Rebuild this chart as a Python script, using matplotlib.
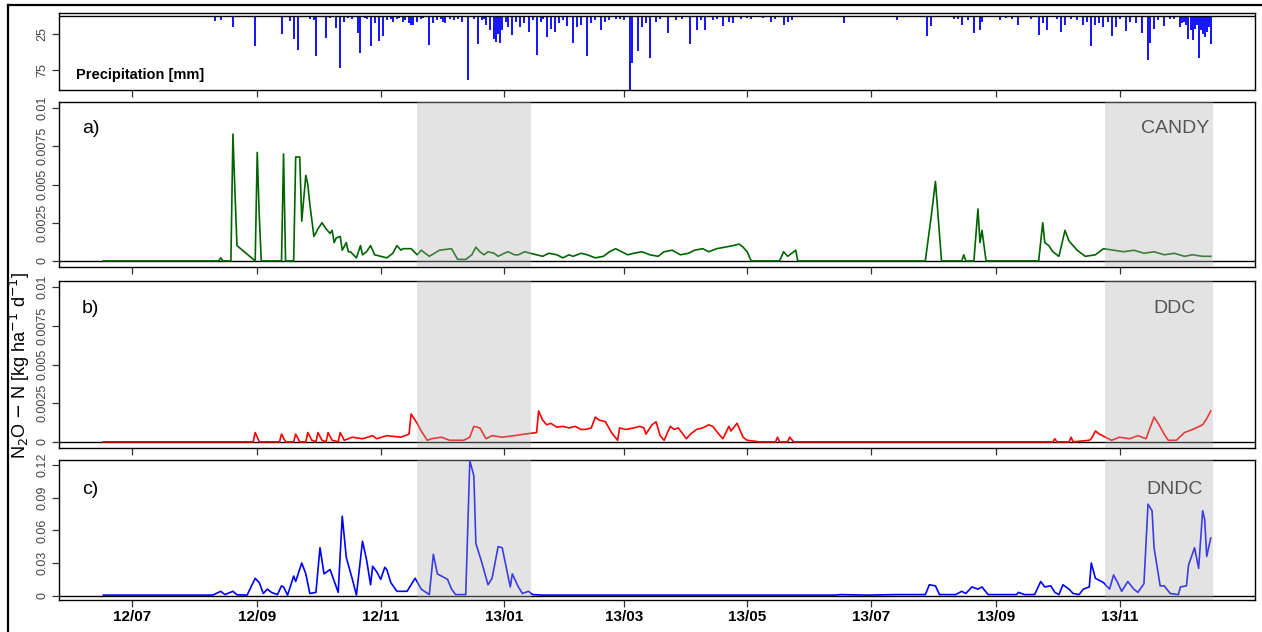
import matplotlib
matplotlib.use("Agg")
import matplotlib.pyplot as plt
import pandas as pd
from matplotlib.lines import Line2D

plt.rcParams['font.family'] = ['Liberation Sans', 'DejaVu Sans']

# rain days (mm)
rain_dates = ["2012-08-11", "2012-08-14", "2012-08-20", "2012-08-31", "2012-09-13", "2012-09-17",
              "2012-09-19", "2012-09-21", "2012-09-27", "2012-09-29", "2012-09-30", "2012-10-05",
              "2012-10-07", "2012-10-10", "2012-10-12", "2012-10-14", "2012-10-16", "2012-10-18",
              "2012-10-21", "2012-10-22", "2012-10-24", "2012-10-25", "2012-10-27", "2012-10-29",
              "2012-10-31", "2012-11-02", "2012-11-04", "2012-11-06", "2012-11-07", "2012-11-09",
              "2012-11-10", "2012-11-12", "2012-11-13", "2012-11-15", "2012-11-16", "2012-11-17",
              "2012-11-19", "2012-11-21", "2012-11-22", "2012-11-25", "2012-11-27", "2012-11-29",
              "2012-12-01", "2012-12-02", "2012-12-03", "2012-12-05", "2012-12-07", "2012-12-09",
              "2012-12-11", "2012-12-14", "2012-12-17", "2012-12-19", "2012-12-21", "2012-12-22",
              "2012-12-23", "2012-12-25", "2012-12-27", "2012-12-28", "2012-12-29", "2012-12-30",
              "2012-12-31", "2013-01-02", "2013-01-03", "2013-01-05", "2013-01-07", "2013-01-09",
              "2013-01-11", "2013-01-13", "2013-01-15", "2013-01-17", "2013-01-19", "2013-01-20",
              "2013-01-22", "2013-01-24", "2013-01-26", "2013-01-28", "2013-01-30", "2013-02-01",
              "2013-02-04", "2013-02-06", "2013-02-08", "2013-02-11", "2013-02-13", "2013-02-15",
              "2013-02-18", "2013-02-20", "2013-02-22", "2013-02-25", "2013-02-27", "2013-03-01",
              "2013-03-04", "2013-03-05", "2013-03-08", "2013-03-10", "2013-03-12", "2013-03-14",
              "2013-03-17", "2013-03-19", "2013-03-23", "2013-03-27", "2013-03-30", "2013-04-03",
              "2013-04-06", "2013-04-08", "2013-04-10", "2013-04-14", "2013-04-16", "2013-04-19",
              "2013-04-22", "2013-04-24", "2013-04-28", "2013-05-01", "2013-05-03", "2013-05-09",
              "2013-05-13", "2013-05-15", "2013-05-19", "2013-05-21", "2013-05-23", "2013-06-18",
              "2013-07-14", "2013-07-29", "2013-07-31", "2013-08-11", "2013-08-13", "2013-08-15",
              "2013-08-18", "2013-08-21", "2013-08-24", "2013-08-25", "2013-09-03", "2013-09-06",
              "2013-09-09", "2013-09-12", "2013-09-18", "2013-09-22", "2013-09-24", "2013-09-26",
              "2013-10-01", "2013-10-03", "2013-10-05", "2013-10-08", "2013-10-11", "2013-10-14",
              "2013-10-16", "2013-10-18", "2013-10-20", "2013-10-22", "2013-10-24", "2013-10-26",
              "2013-10-28", "2013-10-30", "2013-11-01", "2013-11-04", "2013-11-06", "2013-11-09",
              "2013-11-12", "2013-11-15", "2013-11-16", "2013-11-18", "2013-11-20", "2013-11-23",
              "2013-11-26", "2013-11-28", "2013-12-01", "2013-12-02", "2013-12-03", "2013-12-04",
              "2013-12-05", "2013-12-06", "2013-12-07", "2013-12-08", "2013-12-09", "2013-12-10",
              "2013-12-11", "2013-12-12", "2013-12-13", "2013-12-14", "2013-12-15", "2013-12-16"]
rain_mm = [7, 6, 15, 42, 25, 7,
           32, 47, 4, 6, 56, 31,
           3, 17, 72, 8, 3, 5,
           24, 51, 3, 4, 42, 10,
           35, 28, 6, 4, 8, 5,
           3, 8, 6, 10, 12, 12,
           8, 5, 3, 40, 10, 6,
           4, 8, 10, 4, 6, 5,
           8, 89, 5, 39, 6, 4,
           12, 20, 32, 36, 25, 38,
           20, 8, 15, 26, 8, 16,
           10, 22, 6, 54, 8, 5,
           30, 18, 22, 10, 6, 14,
           37, 16, 12, 56, 10, 6,
           20, 8, 6, 4, 4, 6,
           103, 65, 49, 16, 10, 58,
           8, 5, 24, 6, 4, 39,
           20, 6, 20, 6, 4, 14,
           8, 10, 5, 3, 4, 3,
           8, 5, 12, 8, 6, 10,
           6, 28, 14, 5, 4, 12,
           6, 24, 20, 8, 6, 3,
           4, 12, 5, 26, 10, 20,
           4, 22, 12, 4, 6, 12,
           8, 42, 12, 10, 15, 8,
           28, 15, 5, 21, 8, 10,
           24, 61, 38, 18, 6, 14,
           5, 4, 15, 10, 8, 12,
           32, 20, 33, 18, 12, 58,
           20, 25, 30, 22, 15, 39]

# CANDY N2O-N flux
candy_dates = ["2012-06-17", "2012-08-13", "2012-08-14", "2012-08-15", "2012-08-19", "2012-08-20",
               "2012-08-21", "2012-08-22", "2012-08-31", "2012-09-01", "2012-09-02", "2012-09-03",
               "2012-09-13", "2012-09-14", "2012-09-15", "2012-09-19", "2012-09-20", "2012-09-22",
               "2012-09-23", "2012-09-25", "2012-09-26", "2012-09-27", "2012-09-29", "2012-10-01",
               "2012-10-03", "2012-10-05", "2012-10-07", "2012-10-08", "2012-10-09", "2012-10-10",
               "2012-10-12", "2012-10-13", "2012-10-15", "2012-10-16", "2012-10-17", "2012-10-20",
               "2012-10-22", "2012-10-23", "2012-10-25", "2012-10-27", "2012-10-29", "2012-11-01",
               "2012-11-04", "2012-11-07", "2012-11-09", "2012-11-11", "2012-11-12", "2012-11-16",
               "2012-11-19", "2012-11-21", "2012-11-25", "2012-11-30", "2012-12-06", "2012-12-09",
               "2012-12-13", "2012-12-16", "2012-12-18", "2012-12-20", "2012-12-22", "2012-12-24",
               "2012-12-27", "2012-12-29", "2013-01-01", "2013-01-03", "2013-01-06", "2013-01-08",
               "2013-01-11", "2013-01-14", "2013-01-17", "2013-01-20", "2013-01-23", "2013-01-27",
               "2013-01-30", "2013-02-02", "2013-02-04", "2013-02-08", "2013-02-11", "2013-02-15",
               "2013-02-19", "2013-02-22", "2013-02-25", "2013-02-28", "2013-03-03", "2013-03-06",
               "2013-03-10", "2013-03-14", "2013-03-18", "2013-03-21", "2013-03-25", "2013-03-29",
               "2013-04-02", "2013-04-05", "2013-04-09", "2013-04-12", "2013-04-16", "2013-04-20",
               "2013-04-24", "2013-04-27", "2013-04-29", "2013-05-01", "2013-05-03", "2013-05-17",
               "2013-05-19", "2013-05-21", "2013-05-25", "2013-05-26", "2013-07-28", "2013-07-31",
               "2013-08-02", "2013-08-03", "2013-08-05", "2013-08-15", "2013-08-16", "2013-08-17",
               "2013-08-21", "2013-08-23", "2013-08-24", "2013-08-25", "2013-08-27", "2013-09-22",
               "2013-09-24", "2013-09-25", "2013-09-27", "2013-09-29", "2013-10-02", "2013-10-05",
               "2013-10-07", "2013-10-11", "2013-10-15", "2013-10-20", "2013-10-24", "2013-10-29",
               "2013-11-03", "2013-11-08", "2013-11-13", "2013-11-18", "2013-11-23", "2013-11-28",
               "2013-12-03", "2013-12-07", "2013-12-12", "2013-12-16"]
candy_vals = [0, 0, 0.0002, 0, 0, 0.0083,
              0.0045, 0.001, 0, 0.0071, 0.003, 0,
              0, 0.0070, 0, 0, 0.0068, 0.0068,
              0.0026, 0.0056, 0.0050, 0.0037, 0.0016, 0.0021,
              0.0025, 0.0021, 0.0018, 0.0020, 0.0012, 0.0015,
              0.0016, 0.0007, 0.0012, 0.0006, 0.0006, 0.0002,
              0.0010, 0.0004, 0.0006, 0.0010, 0.0004, 0.0003,
              0.0002, 0.0005, 0.0010, 0.0007, 0.0008, 0.0008,
              0.0004, 0.0007, 0.0003, 0.0007, 0.0008, 0.0001,
              0.0001, 0.0004, 0.0009, 0.0006, 0.0004, 0.0006,
              0.0005, 0.0003, 0.0005, 0.0006, 0.0004, 0.0004,
              0.0006, 0.0005, 0.0004, 0.0003, 0.0005, 0.0004,
              0.0002, 0.0004, 0.0003, 0.0005, 0.0004, 0.0002,
              0.0003, 0.0006, 0.0008, 0.0006, 0.0004, 0.0005,
              0.0006, 0.0004, 0.0003, 0.0006, 0.0007, 0.0004,
              0.0005, 0.0007, 0.0008, 0.0006, 0.0008, 0.0009,
              0.0010, 0.0011, 0.0009, 0.0006, 0, 0,
              0.0006, 0.0003, 0.0007, 0, 0, 0.0030,
              0.0052, 0.0035, 0, 0, 0.0004, 0,
              0, 0.0034, 0.0012, 0.0020, 0, 0,
              0.0025, 0.0012, 0.0010, 0.0006, 0.0003, 0.0020,
              0.0013, 0.0007, 0.0003, 0.0004, 0.0008, 0.0007,
              0.0006, 0.0007, 0.0005, 0.0006, 0.0004, 0.0005,
              0.0003, 0.0004, 0.0003, 0.0003]

# DDC N2O-N flux
ddc_dates = ["2012-06-17", "2012-08-30", "2012-08-31", "2012-09-02", "2012-09-12", "2012-09-13",
             "2012-09-15", "2012-09-19", "2012-09-20", "2012-09-22", "2012-09-25", "2012-09-26",
             "2012-09-28", "2012-09-30", "2012-10-01", "2012-10-03", "2012-10-05", "2012-10-06",
             "2012-10-08", "2012-10-11", "2012-10-12", "2012-10-14", "2012-10-18", "2012-10-23",
             "2012-10-28", "2012-10-30", "2012-11-04", "2012-11-11", "2012-11-15", "2012-11-16",
             "2012-11-18", "2012-11-19", "2012-11-21", "2012-11-24", "2012-11-26", "2012-12-01",
             "2012-12-05", "2012-12-12", "2012-12-15", "2012-12-17", "2012-12-20", "2012-12-23",
             "2012-12-26", "2012-12-31", "2013-01-06", "2013-01-11", "2013-01-17", "2013-01-18",
             "2013-01-20", "2013-01-22", "2013-01-24", "2013-01-27", "2013-01-30", "2013-02-02",
             "2013-02-05", "2013-02-08", "2013-02-10", "2013-02-13", "2013-02-15", "2013-02-17",
             "2013-02-20", "2013-02-23", "2013-02-26", "2013-02-27", "2013-03-02", "2013-03-06",
             "2013-03-09", "2013-03-11", "2013-03-12", "2013-03-15", "2013-03-17", "2013-03-19",
             "2013-03-21", "2013-03-24", "2013-03-26", "2013-03-28", "2013-04-01", "2013-04-03",
             "2013-04-06", "2013-04-09", "2013-04-12", "2013-04-14", "2013-04-17", "2013-04-19",
             "2013-04-22", "2013-04-23", "2013-04-26", "2013-04-29", "2013-05-01", "2013-05-07",
             "2013-05-15", "2013-05-16", "2013-05-17", "2013-05-21", "2013-05-22", "2013-05-24",
             "2013-09-29", "2013-09-30", "2013-10-01", "2013-10-07", "2013-10-08", "2013-10-09",
             "2013-10-17", "2013-10-18", "2013-10-20", "2013-10-22", "2013-10-25", "2013-10-28",
             "2013-11-01", "2013-11-06", "2013-11-10", "2013-11-14", "2013-11-18", "2013-11-20",
             "2013-11-23", "2013-11-25", "2013-11-29", "2013-12-03", "2013-12-07", "2013-12-12",
             "2013-12-14", "2013-12-16"]
ddc_vals = [0, 0, 0.0006, 0, 0, 0.0005,
            0, 0, 0.0005, 0, 0, 0.0006,
            0.0001, 0, 0.0006, 0.0001, 0, 0.0006,
            0.0001, 0, 0.0006, 0.0001, 0.0003, 0.0002,
            0.0004, 0.0002, 0.0004, 0.0003, 0.0005, 0.0018,
            0.0014, 0.0012, 0.0007, 0.0001, 0.0002, 0.0003,
            0.0001, 0.0001, 0.0003, 0.0010, 0.0009, 0.0002,
            0.0004, 0.0003, 0.0004, 0.0005, 0.0006, 0.0020,
            0.0014, 0.0011, 0.0012, 0.00095, 0.0010, 0.0009,
            0.0010, 0.0008, 0.0008, 0.0009, 0.0016, 0.0014,
            0.0013, 0.0006, 0.0001, 0.0009, 0.0008, 0.0009,
            0.0010, 0.0009, 0.0005, 0.0011, 0.0013, 0.0004,
            0.0001, 0.0010, 0.0008, 0.0009, 0.0002, 0.0005,
            0.0008, 0.0009, 0.0011, 0.0010, 0.0005, 0.0002,
            0.0010, 0.0007, 0.0012, 0.0003, 0.0001, 0,
            0, 0.0003, 0, 0, 0.0003, 0,
            0, 0.0002, 0, 0, 0.0003, 0,
            0.0001, 0.0002, 0.0007, 0.0005, 0.0003, 0.0001,
            0.0003, 0.0002, 0.0004, 0.0002, 0.0016, 0.0012,
            0.0005, 0.0001, 0.0001, 0.0006, 0.0008, 0.0011,
            0.0015, 0.0020]

# DNDC N2O-N flux
dndc_dates = ["2012-06-17", "2012-08-10", "2012-08-14", "2012-08-16", "2012-08-20", "2012-08-22",
              "2012-08-27", "2012-08-31", "2012-09-02", "2012-09-04", "2012-09-06", "2012-09-08",
              "2012-09-11", "2012-09-13", "2012-09-14", "2012-09-16", "2012-09-19", "2012-09-20",
              "2012-09-23", "2012-09-25", "2012-09-27", "2012-09-30", "2012-10-02", "2012-10-04",
              "2012-10-07", "2012-10-11", "2012-10-13", "2012-10-15", "2012-10-18", "2012-10-20",
              "2012-10-23", "2012-10-25", "2012-10-27", "2012-10-28", "2012-10-30", "2012-11-01",
              "2012-11-03", "2012-11-04", "2012-11-06", "2012-11-09", "2012-11-14", "2012-11-18",
              "2012-11-21", "2012-11-25", "2012-11-27", "2012-11-29", "2012-12-04", "2012-12-06",
              "2012-12-08", "2012-12-13", "2012-12-15", "2012-12-17", "2012-12-18", "2012-12-21",
              "2012-12-24", "2012-12-26", "2012-12-29", "2012-12-31", "2013-01-04", "2013-01-05",
              "2013-01-08", "2013-01-10", "2013-01-13", "2013-01-15", "2013-01-20", "2013-06-14",
              "2013-06-16", "2013-06-29", "2013-07-14", "2013-07-28", "2013-07-30", "2013-08-02",
              "2013-08-04", "2013-08-12", "2013-08-15", "2013-08-17", "2013-08-20", "2013-08-23",
              "2013-08-25", "2013-08-28", "2013-09-11", "2013-09-12", "2013-09-15", "2013-09-20",
              "2013-09-23", "2013-09-25", "2013-09-28", "2013-09-30", "2013-10-02", "2013-10-04",
              "2013-10-07", "2013-10-09", "2013-10-12", "2013-10-14", "2013-10-17", "2013-10-18",
              "2013-10-20", "2013-10-24", "2013-10-27", "2013-10-29", "2013-10-31", "2013-11-02",
              "2013-11-05", "2013-11-08", "2013-11-10", "2013-11-13", "2013-11-15", "2013-11-17",
              "2013-11-18", "2013-11-21", "2013-11-23", "2013-11-26", "2013-11-30", "2013-12-01",
              "2013-12-04", "2013-12-05", "2013-12-08", "2013-12-10", "2013-12-12", "2013-12-13",
              "2013-12-14", "2013-12-16"]
dndc_vals = [0.0005, 0.0005, 0.004, 0.001, 0.004, 0.0008,
             0.0005, 0.016, 0.012, 0.002, 0.006, 0.003,
             0.001, 0.009, 0.008, 0.0005, 0.018, 0.013,
             0.030, 0.020, 0.002, 0.003, 0.044, 0.020,
             0.024, 0.003, 0.073, 0.035, 0.015, 0.0005,
             0.050, 0.033, 0.010, 0.027, 0.022, 0.015,
             0.026, 0.024, 0.012, 0.004, 0.004, 0.016,
             0.006, 0.001, 0.038, 0.020, 0.015, 0.006,
             0.001, 0.001, 0.124, 0.110, 0.048, 0.030,
             0.010, 0.016, 0.045, 0.044, 0.008, 0.020,
             0.008, 0.002, 0.004, 0.001, 0.0005, 0.0005,
             0.001, 0.0005, 0.001, 0.001, 0.010, 0.009,
             0.001, 0.001, 0.004, 0.002, 0.008, 0.006,
             0.008, 0.001, 0.001, 0.003, 0.001, 0.001,
             0.013, 0.008, 0.009, 0.003, 0.001, 0.010,
             0.006, 0.002, 0.001, 0.006, 0.008, 0.030,
             0.016, 0.012, 0.006, 0.019, 0.012, 0.004,
             0.013, 0.006, 0.003, 0.011, 0.084, 0.078,
             0.044, 0.009, 0.009, 0.002, 0.001, 0.008,
             0.009, 0.028, 0.044, 0.025, 0.078, 0.070,
             0.036, 0.053]

shade_periods = [("2012-11-19", "2013-01-14"), ("2013-10-25", "2013-12-17")]
month_ticks = pd.date_range("2012-07-01", "2013-11-01", freq="2MS")
month_labels = [d.strftime("%y/%m") for d in month_ticks]

small_ticks = [0, 0.0025, 0.005, 0.0075, 0.01]
small_labels = ["0", "0.0025", "0.005", "0.0075", "0.01"]
dndc_ticks = [0, 0.03, 0.06, 0.09, 0.12]
dndc_labels = ["0", "0.03", "0.06", "0.09", "0.12"]

start, end = pd.Timestamp("2012-06-17"), pd.Timestamp("2013-12-16")
pad = (end - start) * 0.04
xlim = (start - pad, end + pad)

fig = plt.figure(figsize=(12.62, 6.32), dpi=100)

# outer frame (left and top edges)
fig.add_artist(Line2D([0.0063, 0.0063], [0, 0.9915], color='black', lw=1.6, transform=fig.transFigure))
fig.add_artist(Line2D([0.0063, 1.0], [0.9915, 0.9915], color='black', lw=1.6, transform=fig.transFigure))

left, width = 0.0468, 0.9477
ax_p = fig.add_axes([left, 0.8576, width, 0.1218])
ax_a = fig.add_axes([left, 0.5775, width, 0.2611])
ax_b = fig.add_axes([left, 0.2911, width, 0.2643])
ax_c = fig.add_axes([left, 0.0506, width, 0.2216])


def style(ax):
    for s in ax.spines.values():
        s.set_linewidth(1.0)
        s.set_color('black')
    ax.set_xlim(*xlim)
    ax.set_xticks(month_ticks)
    ax.tick_params(direction='out', length=5, width=0.9, colors='#333333')
    ax.tick_params(axis='y', labelsize=9, pad=2.5, labelcolor='#444444')
    ax.tick_params(axis='x', labelbottom=False)


# precipitation, bars hanging down from the top
ax_p.vlines(pd.to_datetime(rain_dates), 0, rain_mm, color='blue', lw=1.3)
ax_p.axhline(0, color='black', lw=1.0)
style(ax_p)
ax_p.set_ylim(103, -4)
ax_p.set_yticks([25, 75])
ax_p.set_yticklabels(["25", "75"], rotation=90, va='center')
ax_p.text(0.014, 0.1, "Precipitation [mm]", transform=ax_p.transAxes, fontsize=10.5,
          fontweight='bold', ha='left', va='bottom')

panels = [
    (ax_a, candy_dates, candy_vals, '#006400', "a)", "CANDY", small_ticks, small_labels, (-0.0004, 0.0104), 0.842),
    (ax_b, ddc_dates, ddc_vals, 'red', "b)", "DDC", small_ticks, small_labels, (-0.0004, 0.0104), 0.838),
    (ax_c, dndc_dates, dndc_vals, 'blue', "c)", "DNDC", dndc_ticks, dndc_labels, (-0.004, 0.1246), 0.786),
]
for ax, dates, vals, col, tag, name, yt, yl, ylim, ty in panels:
    ax.plot(pd.to_datetime(dates), vals, color=col, lw=1.2, zorder=3)
    ax.axhline(0, color='black', lw=1.0, zorder=2)
    for d0, d1 in shade_periods:
        ax.axvspan(pd.Timestamp(d0), pd.Timestamp(d1), color='#afafaf', alpha=0.35, lw=0, zorder=4)
    style(ax)
    ax.set_ylim(*ylim)
    ax.set_yticks(yt)
    ax.set_yticklabels(yl, rotation=90, va='center')
    ax.text(0.019, ty, tag, transform=ax.transAxes, fontsize=14, ha='left', va='center')
    ax.text(0.933, ty, name, transform=ax.transAxes, fontsize=14, color='#555555',
            ha='center', va='center', zorder=6)

ax_c.tick_params(axis='x', labelbottom=True, labelsize=11, pad=2, labelcolor='black')
ax_c.set_xticklabels(month_labels, fontweight='bold')

fig.text(0.016, 0.4225, r'N$_2$O $-$ N [kg ha$^{-1}$ d$^{-1}$]', rotation=90,
         ha='center', va='center', fontsize=13)

fig.savefig("out.png", dpi=100)
